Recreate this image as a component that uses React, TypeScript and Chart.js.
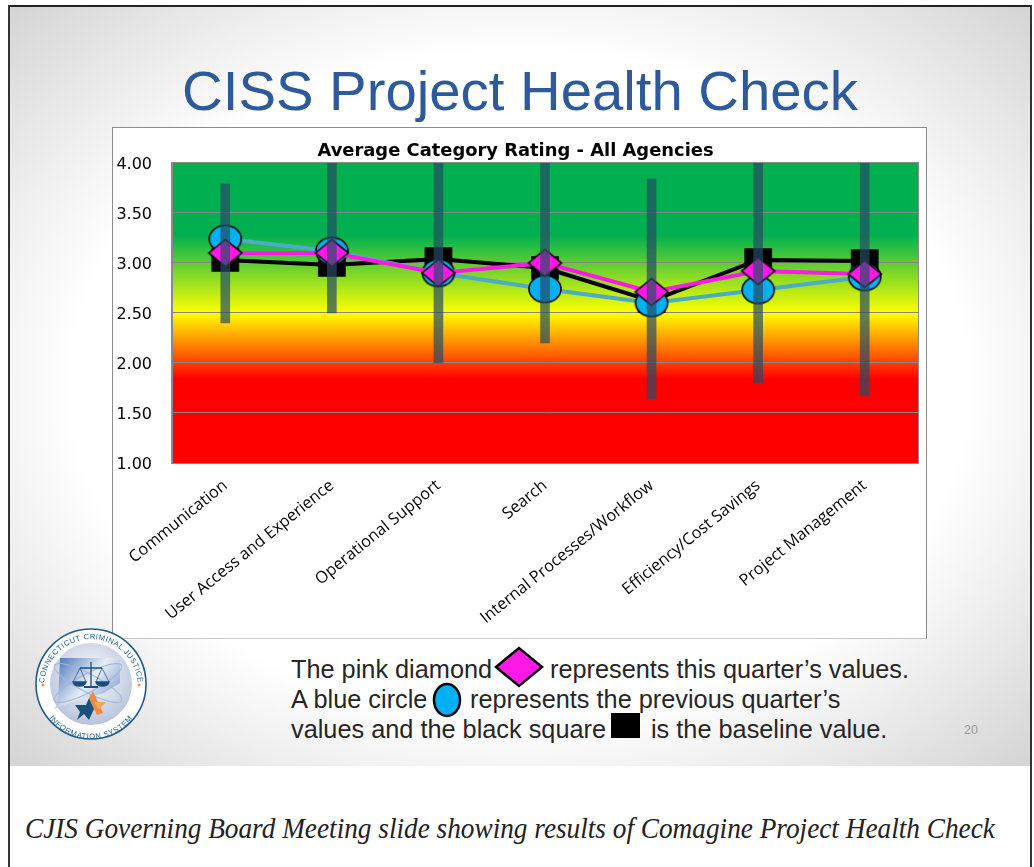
import React, { useEffect, useRef } from "react";
import { Chart, registerables } from "chart.js";

Chart.register(...registerables);

const categories = [
  "Communication",
  "User Access and Experience",
  "Operational Support",
  "Search",
  "Internal Processes/Workflow",
  "Efficiency/Cost Savings",
  "Project Management",
];
const rangeLow = [2.4, 2.5, 2.0, 2.2, 1.64, 1.8, 1.67];
const rangeHigh = [3.79, 4.0, 4.0, 4.0, 3.84, 4.0, 4.0];
const baseline = [3.03, 2.98, 3.04, 2.95, 2.62, 3.03, 3.02];
const previousQuarter = [3.24, 3.12, 2.9, 2.74, 2.6, 2.73, 2.86];
const thisQuarter = [3.1, 3.1, 2.9, 3.0, 2.71, 2.92, 2.89];

const SANS = '"Liberation Sans", Arial, sans-serif';

function marker(kind: "square" | "circle" | "diamond", w: number, h: number, fill: string) {
  const c = document.createElement("canvas");
  c.width = w + 4;
  c.height = h + 4;
  const ctx = c.getContext("2d")!;
  const cx = c.width / 2;
  const cy = c.height / 2;
  ctx.fillStyle = fill;
  ctx.strokeStyle = "#000";
  ctx.lineWidth = 1.6;
  ctx.beginPath();
  if (kind === "square") ctx.rect(cx - w / 2, cy - h / 2, w, h);
  if (kind === "circle") ctx.ellipse(cx, cy, w / 2, h / 2, 0, 0, Math.PI * 2);
  if (kind === "diamond") {
    ctx.moveTo(cx - w / 2, cy);
    ctx.lineTo(cx, cy - h / 2);
    ctx.lineTo(cx + w / 2, cy);
    ctx.lineTo(cx, cy + h / 2);
    ctx.closePath();
  }
  ctx.fill();
  ctx.stroke();
  return c;
}

const plotBackground = {
  id: "plotBackground",
  beforeDraw(chart: any) {
    const { ctx, chartArea: a } = chart;
    const g = ctx.createLinearGradient(0, a.top, 0, a.bottom);
    g.addColorStop(0, "#00b050");
    g.addColorStop(0.24, "#00b050");
    g.addColorStop(0.5, "#ffff00");
    g.addColorStop(0.72, "#ff0000");
    g.addColorStop(1, "#ff0000");
    ctx.save();
    ctx.fillStyle = "#fff";
    ctx.fillRect(0, 0, chart.width, chart.height);
    ctx.fillStyle = g;
    ctx.fillRect(a.left, a.top, a.right - a.left, a.bottom - a.top);
    ctx.restore();
  },
  beforeDatasetsDraw(chart: any) {
    const { ctx, chartArea: a } = chart;
    ctx.save();
    ctx.strokeStyle = "#8a8a8a";
    ctx.lineWidth = 1;
    ctx.strokeRect(a.left - 0.5, a.top - 0.5, a.right - a.left + 1, a.bottom - a.top + 1);
    ctx.restore();
  },
};

function Seal() {
  return (
    <svg width="114" height="114" viewBox="0 0 114 114" style={{ position: "absolute", left: 34, top: 627 }}>
      <defs>
        <linearGradient id="sealFill" x1="0" y1="0" x2="1" y2="0.6">
          <stop offset="0" stopColor="#3f6db5" />
          <stop offset="0.6" stopColor="#e8eef8" />
          <stop offset="1" stopColor="#8fa8d4" />
        </linearGradient>
        <radialGradient id="sealDisc" cx="0.5" cy="0.4" r="0.6">
          <stop offset="0" stopColor="#ffffff" />
          <stop offset="1" stopColor="#b7c3dc" />
        </radialGradient>
        <path id="sealTop" d="M 10.5 66 A 47 47 0 1 1 103.5 66" />
        <path id="sealBottom" d="M 5 60 A 52 52 0 0 0 109 60" />
      </defs>
      <circle cx="57" cy="57" r="55" fill="#fff" stroke="#1d5c8c" strokeWidth="1.6" />
      <circle cx="57" cy="57" r="41" fill="url(#sealDisc)" />
      <path d="M26 31 L86 31 L86 56 L70 66 L40 74 L20 82 L24 76 Z" fill="url(#sealFill)" />
      <ellipse cx="54" cy="56" rx="38" ry="9" fill="none" stroke="#9fb6dc" strokeWidth="1" transform="rotate(28 54 56)" />
      <ellipse cx="54" cy="56" rx="38" ry="9" fill="none" stroke="#9fb6dc" strokeWidth="1" transform="rotate(-28 54 56)" />
      <text fontFamily='"Liberation Sans", sans-serif' fontSize="7.6" fill="#1d5c8c" letterSpacing="0.5">
        <textPath href="#sealTop" startOffset="50%" textAnchor="middle">CONNECTICUT CRIMINAL JUSTICE</textPath>
      </text>
      <text fontFamily='"Liberation Sans", sans-serif' fontSize="7.6" fill="#1d5c8c" letterSpacing="0.6">
        <textPath href="#sealBottom" startOffset="50%" textAnchor="middle">INFORMATION SYSTEM</textPath>
      </text>
      <g stroke="#1d4f7c" strokeWidth="1.3" fill="none">
        <path d="M57 35 V60 M46 41 H68" />
        <path d="M39 55 L46 41 L52 55 M62 55 L68 41 L75 55" strokeWidth="0.7" />
        <path d="M39 55 a6.5 4 0 0 0 13 0 Z M62 55 a6.5 4 0 0 0 13 0 Z" fill="#1d4f7c" />
        <path d="M50 60 H64" strokeWidth="2" />
      </g>
      <path d="M55 71 L59 64 L69 86 L63 88 Z" fill="#ee8a3a" />
      <path d="M41 78 L52 78 L55 71 L60 82 L55 93 L50 87 L43 93 L46 85 Z" fill="#1d4f7c" />
      <path d="M60 75 L72 75 L65 83 Z" fill="#f2a65a" />
      <circle cx="9" cy="58" r="1.5" fill="#ee9a2e" />
      <circle cx="105" cy="58" r="1.5" fill="#ee9a2e" />
    </svg>
  );
}

const textLine: React.CSSProperties = {
  position: "absolute",
  fontFamily: SANS,
  fontSize: 25.3,
  color: "#262626",
  whiteSpace: "pre",
  lineHeight: "28px",
};

export default function App() {
  const ref = useRef<HTMLCanvasElement>(null);
  useEffect(() => {
    const chart = new Chart(ref.current!, {
      type: "bar",
      plugins: [plotBackground],
      data: {
        labels: categories,
        datasets: [
          {
            type: "bar",
            label: "Range",
            data: rangeLow.map((v, i) => [v, rangeHigh[i]]),
            backgroundColor: "rgba(37,76,101,0.7)",
            borderWidth: 0,
            barThickness: 9,
            order: 0,
          },
          {
            type: "line",
            label: "This quarter",
            data: thisQuarter,
            borderColor: "#ff19e6",
            borderWidth: 4,
            tension: 0,
            pointStyle: marker("diamond", 33, 27, "#ff19e6"),
            order: 1,
          },
          {
            type: "line",
            label: "Previous quarter",
            data: previousQuarter,
            borderColor: "#4bacc6",
            borderWidth: 4,
            tension: 0,
            pointStyle: marker("circle", 32, 27, "#00b0f0"),
            order: 2,
          },
          {
            type: "line",
            label: "Baseline",
            data: baseline,
            borderColor: "#000",
            borderWidth: 4,
            tension: 0,
            pointStyle: marker("square", 26, 22, "#000"),
            order: 3,
          },
        ] as any,
      },
      options: {
        responsive: false,
        animation: false,
        layout: { padding: { right: 8, left: 0, top: 0, bottom: 0 } },
        plugins: {
          legend: { display: false },
          tooltip: { enabled: false },
          title: {
            display: true,
            text: "Average Category Rating - All Agencies",
            color: "#000",
            font: { family: '"DejaVu Sans", sans-serif', size: 17.9, weight: "bold" },
            padding: { top: 13, bottom: 0.5 },
          },
        },
        scales: {
          x: {
            grid: { display: false, drawTicks: false },
            border: { color: "#8a8a8a" },
            afterFit(s: any) {
              s.height = 175;
            },
            ticks: {
              color: "#000",
              font: { family: '"Open Sans", sans-serif', size: 16.3 },
              minRotation: 39,
              maxRotation: 39,
              padding: 13,
              autoSkip: false,
            },
          },
          y: {
            min: 1,
            max: 4,
            grid: { color: "#868686", drawTicks: false },
            border: { color: "#8a8a8a" },
            afterFit(s: any) {
              s.width = 59;
            },
            ticks: {
              stepSize: 0.5,
              color: "#000",
              font: { family: '"DejaVu Sans", sans-serif', size: 16 },
              padding: 20,
              labelOffset: 2,
              callback: (v: any) => Number(v).toFixed(2),
            },
          },
        },
      } as any,
    });
    return () => chart.destroy();
  }, []);

  return (
    <div style={{ position: "absolute", left: 0, top: 0, width: 1034, height: 867, background: "#fff", overflow: "hidden" }}>
      <div
        style={{
          position: "absolute",
          left: 9,
          top: 5,
          width: 1021,
          height: 761,
          background: "radial-gradient(ellipse farthest-corner at 50% 50%, #ffffff 62%, #d4d4d4 100%)",
        }}
      />
      <div style={{ position: "absolute", left: 8, top: 5, width: 1023, height: 2, background: "#222" }} />
      <div style={{ position: "absolute", left: 8, top: 5, width: 2, height: 862, background: "#333" }} />
      <div style={{ position: "absolute", left: 1030, top: 5, width: 2, height: 862, background: "#333" }} />

      <div
        style={{
          position: "absolute",
          left: 0,
          width: 1040,
          top: 58,
          textAlign: "center",
          fontFamily: SANS,
          fontSize: 56.3,
          lineHeight: "66px",
          color: "#2c5a9a",
        }}
      >
        CISS Project Health Check
      </div>

      <canvas ref={ref} width={813} height={510} style={{ position: "absolute", left: 113, top: 128, display: "block" }} />
      <div
        style={{
          position: "absolute",
          left: 112,
          top: 127,
          width: 813,
          height: 510,
          borderTop: "1.5px solid #8c8c8c",
          borderLeft: "1.5px solid #8c8c8c",
          borderRight: "1.5px solid #8c8c8c",
          borderBottom: "1px solid #c8c8c8",
        }}
      />

      <Seal />

      <div style={{ ...textLine, left: 291, top: 655 }}>The pink diamond</div>
      <svg width="50" height="42" style={{ position: "absolute", left: 494, top: 646 }}>
        <path d="M2 21 L25 2 L48 21 L25 40 Z" fill="#ff19e6" stroke="#000" strokeWidth="2.5" />
      </svg>
      <div style={{ ...textLine, left: 550, top: 655 }}>represents this quarter’s values.</div>
      <div style={{ ...textLine, left: 291, top: 685 }}>A blue circle</div>
      <svg width="30" height="36" style={{ position: "absolute", left: 432, top: 682 }}>
        <ellipse cx="15" cy="18" rx="13" ry="16" fill="#00b0f0" stroke="#000" strokeWidth="2.5" />
      </svg>
      <div style={{ ...textLine, left: 470, top: 685 }}>represents the previous quarter’s</div>
      <div style={{ ...textLine, left: 291, top: 715 }}>values and the black square</div>
      <div style={{ position: "absolute", left: 611, top: 713, width: 29, height: 25, background: "#000" }} />
      <div style={{ ...textLine, left: 651, top: 715 }}>is the baseline value.</div>
      <div style={{ position: "absolute", left: 964, top: 723, fontFamily: SANS, fontSize: 12.5, color: "#999" }}>20</div>

      <div
        style={{
          position: "absolute",
          left: 25,
          top: 809,
          fontFamily: '"Liberation Serif", serif',
          fontStyle: "italic",
          fontSize: 29,
          lineHeight: "38px",
          color: "#222",
          whiteSpace: "pre",
          transform: "scaleX(0.94)",
          transformOrigin: "left center",
        }}
      >
        CJIS Governing Board Meeting slide showing results of Comagine Project Health Check
      </div>
    </div>
  );
}
